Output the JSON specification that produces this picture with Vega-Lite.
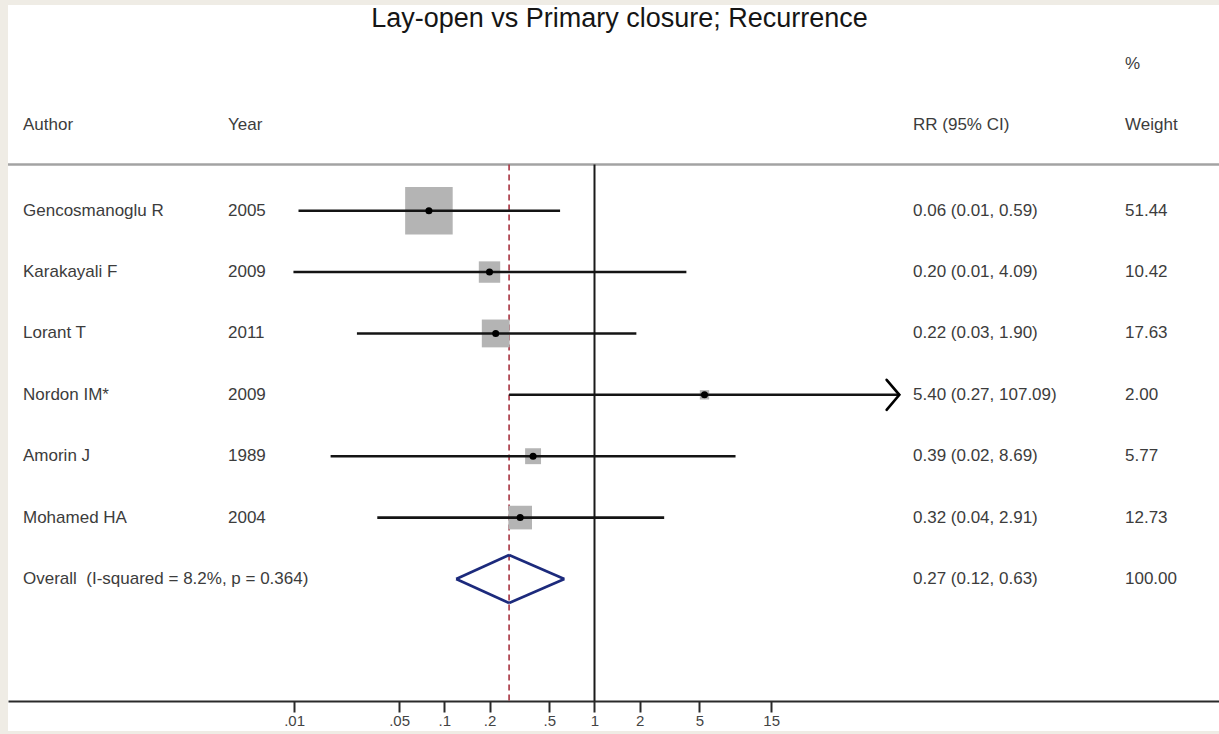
{
  "$schema": "https://vega.github.io/schema/vega-lite/v6.json",
  "width": 1211,
  "height": 726,
  "autosize": {"type": "none"},
  "padding": {"left": 8, "top": 5, "right": 0, "bottom": 3},
  "background": "#efece5",
  "config": {
    "view": {"stroke": null, "fill": "#ffffff"},
    "font": "Liberation Sans"
  },
  "title": {
    "text": "Lay-open vs Primary closure; Recurrence",
    "font": "Liberation Sans",
    "fontSize": 27,
    "fontWeight": "normal",
    "color": "#151515",
    "anchor": "middle",
    "frame": "group",
    "offset": -28,
    "dx": 6
  },
  "datasets": {
    "studies": [
      {"row": 1, "type": "study", "author": "Gencosmanoglu R", "year": "2005", "rr": 0.079, "lo": 0.0107, "hi": 0.59, "ci": "0.06 (0.01, 0.59)", "weight": 51.44},
      {"row": 2, "type": "study", "author": "Karakayali F", "year": "2009", "rr": 0.20, "lo": 0.0099, "hi": 4.09, "ci": "0.20 (0.01, 4.09)", "weight": 10.42},
      {"row": 3, "type": "study", "author": "Lorant T", "year": "2011", "rr": 0.22, "lo": 0.0262, "hi": 1.90, "ci": "0.22 (0.03, 1.90)", "weight": 17.63},
      {"row": 4, "type": "study", "author": "Nordon IM*", "year": "2009", "rr": 5.40, "lo": 0.27, "hi": 107.09, "ci": "5.40 (0.27, 107.09)", "weight": 2.00},
      {"row": 5, "type": "study", "author": "Amorin J", "year": "1989", "rr": 0.39, "lo": 0.0175, "hi": 8.69, "ci": "0.39 (0.02, 8.69)", "weight": 5.77},
      {"row": 6, "type": "study", "author": "Mohamed HA", "year": "2004", "rr": 0.32, "lo": 0.0358, "hi": 2.91, "ci": "0.32 (0.04, 2.91)", "weight": 12.73},
      {"row": 7, "type": "overall", "author": "Overall \u00a0(I-squared = 8.2%, p = 0.364)", "year": "", "rr": 0.27, "lo": 0.12, "hi": 0.63, "ci": "0.27 (0.12, 0.63)", "weight": 100.00}
    ],
    "header": [
      {"author": "Author", "year": "Year", "ci": "RR (95% CI)", "weight": "Weight", "pct": "%"}
    ]
  },
  "data": {"name": "studies"},
  "layer": [
    {
      "data": {"name": "header"},
      "mark": {"type": "rule", "color": "#a3a3a3", "strokeWidth": 2.5},
      "encoding": {
        "y": {"datum": 0.247, "type": "quantitative", "scale": {"domain": [-2.351, 9.477], "reverse": true, "nice": false, "zero": false}, "axis": null}
      }
    },
    {
      "data": {"name": "header"},
      "mark": {"type": "rule", "color": "#1a1a1a", "strokeWidth": 2},
      "encoding": {
        "x": {
          "datum": 1, "type": "quantitative",
          "scale": {"type": "log", "domain": [0.00012452, 14381], "nice": false},
          "axis": {
            "values": [0.01, 0.05, 0.1, 0.2, 0.5, 1, 2, 5, 15],
            "labelExpr": "datum.value < 1 ? slice(toString(datum.value), 1) : toString(datum.value)",
            "title": null,
            "grid": false,
            "offset": -30,
            "domainColor": "#2a2a2a",
            "domainWidth": 2,
            "tickColor": "#2a2a2a",
            "tickWidth": 2,
            "tickSize": 11,
            "labelFont": "Liberation Sans",
            "labelFontSize": 15,
            "labelColor": "#444444",
            "labelPadding": 1,
            "labelFlush": false,
            "labelOverlap": false,
            "labelBound": false
          }
        },
        "y": {"datum": 0.247, "type": "quantitative"},
        "y2": {"datum": 8.988}
      }
    },
    {
      "transform": [{"filter": "datum.type === 'overall'"}],
      "mark": {"type": "rule", "color": "#a83442", "strokeWidth": 1.6, "strokeDash": [6, 4]},
      "encoding": {
        "x": {"field": "rr", "type": "quantitative"},
        "y": {"datum": 0.247, "type": "quantitative"},
        "y2": {"datum": 8.988}
      }
    },
    {
      "transform": [{"filter": "datum.type === 'study'"}],
      "mark": {"type": "point", "shape": "square", "filled": true, "color": "#b4b4b4", "opacity": 1},
      "encoding": {
        "x": {"field": "rr", "type": "quantitative"},
        "y": {"field": "row", "type": "quantitative"},
        "size": {"field": "weight", "type": "quantitative", "scale": {"type": "linear", "domain": [0, 51.44], "range": [0, 2260], "zero": true}, "legend": null}
      }
    },
    {
      "transform": [{"filter": "datum.type === 'study'"}],
      "mark": {"type": "rule", "color": "#141414", "strokeWidth": 2.6},
      "encoding": {
        "x": {"field": "lo", "type": "quantitative"},
        "x2": {"field": "hi"},
        "y": {"field": "row", "type": "quantitative"}
      }
    },
    {
      "transform": [{"filter": "datum.type === 'study'"}],
      "mark": {"type": "point", "shape": "circle", "filled": true, "color": "#000000", "size": 50, "opacity": 1},
      "encoding": {
        "x": {"field": "rr", "type": "quantitative"},
        "y": {"field": "row", "type": "quantitative"}
      }
    },
    {
      "transform": [{"filter": "datum.type === 'study' && datum.hi > 100"}],
      "mark": {"type": "point", "shape": "M -0.85 -1 L 0 0 L -0.85 1", "filled": false, "color": "#000000", "strokeWidth": 2.6, "size": 900, "opacity": 1, "strokeCap": "round", "strokeJoin": "miter"},
      "encoding": {
        "x": {"field": "hi", "type": "quantitative"},
        "y": {"field": "row", "type": "quantitative"}
      }
    },
    {
      "transform": [{"filter": "datum.type === 'overall'"}],
      "mark": {"type": "rule", "color": "#1c2a7c", "strokeWidth": 2.6, "y2Offset": -24},
      "encoding": {
        "x": {"field": "lo", "type": "quantitative"},
        "x2": {"field": "rr"},
        "y": {"field": "row", "type": "quantitative"},
        "y2": {"field": "row"}
      }
    },
    {
      "transform": [{"filter": "datum.type === 'overall'"}],
      "mark": {"type": "rule", "color": "#1c2a7c", "strokeWidth": 2.6, "y2Offset": 24},
      "encoding": {
        "x": {"field": "lo", "type": "quantitative"},
        "x2": {"field": "rr"},
        "y": {"field": "row", "type": "quantitative"},
        "y2": {"field": "row"}
      }
    },
    {
      "transform": [{"filter": "datum.type === 'overall'"}],
      "mark": {"type": "rule", "color": "#1c2a7c", "strokeWidth": 2.6, "yOffset": -24},
      "encoding": {
        "x": {"field": "rr", "type": "quantitative"},
        "x2": {"field": "hi"},
        "y": {"field": "row", "type": "quantitative"},
        "y2": {"field": "row"}
      }
    },
    {
      "transform": [{"filter": "datum.type === 'overall'"}],
      "mark": {"type": "rule", "color": "#1c2a7c", "strokeWidth": 2.6, "yOffset": 24},
      "encoding": {
        "x": {"field": "rr", "type": "quantitative"},
        "x2": {"field": "hi"},
        "y": {"field": "row", "type": "quantitative"},
        "y2": {"field": "row"}
      }
    },
    {
      "mark": {"type": "text", "align": "left", "baseline": "middle", "fontSize": 17, "color": "#3c3c3c"},
      "encoding": {
        "x": {"datum": 0.0001567, "type": "quantitative"},
        "y": {"field": "row", "type": "quantitative"},
        "text": {"field": "author"}
      }
    },
    {
      "mark": {"type": "text", "align": "left", "baseline": "middle", "fontSize": 17, "color": "#3c3c3c"},
      "encoding": {
        "x": {"datum": 0.00363, "type": "quantitative"},
        "y": {"field": "row", "type": "quantitative"},
        "text": {"field": "year"}
      }
    },
    {
      "mark": {"type": "text", "align": "left", "baseline": "middle", "fontSize": 17, "color": "#3c3c3c"},
      "encoding": {
        "x": {"datum": 132, "type": "quantitative"},
        "y": {"field": "row", "type": "quantitative"},
        "text": {"field": "ci"}
      }
    },
    {
      "mark": {"type": "text", "align": "left", "baseline": "middle", "fontSize": 17, "color": "#3c3c3c"},
      "encoding": {
        "x": {"datum": 3404, "type": "quantitative"},
        "y": {"field": "row", "type": "quantitative"},
        "text": {"field": "weight", "type": "quantitative", "format": ".2f"}
      }
    },
    {
      "data": {"name": "header"},
      "mark": {"type": "text", "align": "left", "baseline": "middle", "fontSize": 17, "color": "#3c3c3c"},
      "encoding": {
        "x": {"datum": 0.0001567, "type": "quantitative"},
        "y": {"datum": -0.388, "type": "quantitative"},
        "text": {"field": "author"}
      }
    },
    {
      "data": {"name": "header"},
      "mark": {"type": "text", "align": "left", "baseline": "middle", "fontSize": 17, "color": "#3c3c3c"},
      "encoding": {
        "x": {"datum": 0.00363, "type": "quantitative"},
        "y": {"datum": -0.388, "type": "quantitative"},
        "text": {"field": "year"}
      }
    },
    {
      "data": {"name": "header"},
      "mark": {"type": "text", "align": "left", "baseline": "middle", "fontSize": 17, "color": "#3c3c3c"},
      "encoding": {
        "x": {"datum": 132, "type": "quantitative"},
        "y": {"datum": -0.388, "type": "quantitative"},
        "text": {"field": "ci"}
      }
    },
    {
      "data": {"name": "header"},
      "mark": {"type": "text", "align": "left", "baseline": "middle", "fontSize": 17, "color": "#3c3c3c"},
      "encoding": {
        "x": {"datum": 3404, "type": "quantitative"},
        "y": {"datum": -0.388, "type": "quantitative"},
        "text": {"field": "weight"}
      }
    },
    {
      "data": {"name": "header"},
      "mark": {"type": "text", "align": "left", "baseline": "middle", "fontSize": 17, "color": "#3c3c3c"},
      "encoding": {
        "x": {"datum": 3404, "type": "quantitative"},
        "y": {"datum": -1.395, "type": "quantitative"},
        "text": {"field": "pct"}
      }
    }
  ]
}
